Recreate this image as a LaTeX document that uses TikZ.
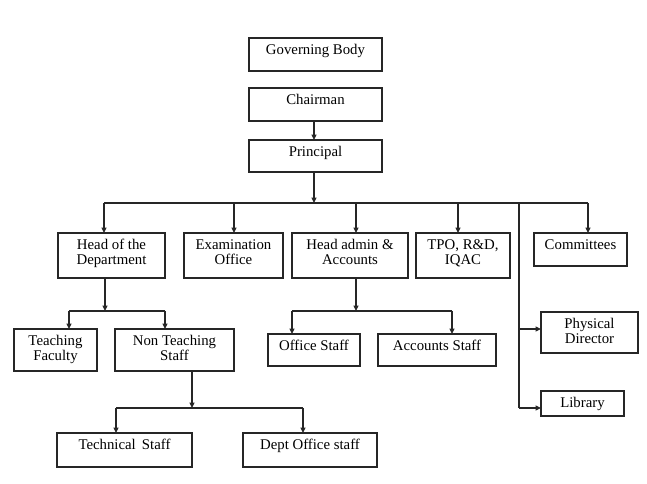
\documentclass[tikz,border=0pt]{standalone}
\usepackage{fontspec}
\setmainfont{Liberation Serif}
\usetikzlibrary{arrows.meta}
\tikzset{
  box/.style={draw=black!85, line width=1.05pt, rectangle, inner sep=0pt, outer sep=0pt},
  lbl/.style={inner sep=0pt, font=\fontsize{11.1}{11.3}\selectfont},
  conn/.style={draw=black!85, line width=0.85pt},
  arr/.style={conn, -{Triangle[length=4pt,width=3.6pt]}},
}
% \bx{name}{x1}{y1}{x2}{y2}{text}
\newcommand{\bx}[6]{%
  \node[box, anchor=north west, minimum width={(#4-#2)*0.75pt}, minimum height={(#5-#3)*0.75pt}] (#1) at (#2,#3) {};
  \node[lbl, anchor=base] (#1-t) at ([yshift=-12.6pt]#1.north) {\setlength{\tabcolsep}{0pt}\renewcommand{\arraystretch}{1}\begin{tabular}[t]{c}#6\end{tabular}};
}
\begin{document}
\begin{tikzpicture}[x=0.75pt, y=-0.75pt]
\useasboundingbox (0,0) rectangle (647,484);
\fill[white] (0,0) rectangle (647,484);

\bx{gb}{249}{38}{382}{71}{Governing Body}
\bx{ch}{249}{88}{382}{121}{Chairman}
\bx{pr}{249}{140}{382}{172}{Principal}

\bx{hod}{58}{233}{165}{278}{Head of the\\Department}
\bx{ex}{184}{233}{283}{278}{Examination\\Office}
\bx{ha}{292}{233}{408}{278}{Head admin \&\\Accounts}
\bx{tpo}{416}{233}{510}{278}{TPO, R\&D,\\IQAC}
\bx{com}{534}{233}{627}{266}{Committees}

\bx{tf}{14}{329}{97}{371}{Teaching\\Faculty}
\bx{nt}{115}{329}{234}{371}{Non Teaching\\Staff}
\bx{os}{268}{334}{360}{366}{Office Staff}
\bx{as}{378}{334}{496}{366}{Accounts Staff}
\bx{pd}{541}{312}{638}{353}{Physical\\Director}
\bx{lib}{541}{391}{624}{416}{Library}

\bx{ts}{57}{433}{192}{467}{Technical\, Staff}
\bx{dos}{243}{433}{377}{467}{Dept Office staff}

% junction coordinates
\coordinate (busL) at (104,203);
\coordinate (busE) at (234,203);
\coordinate (busM) at (314,203);
\coordinate (busH) at (356,203);
\coordinate (busT) at (458,203);
\coordinate (busV) at (519,203);
\coordinate (busR) at (588,203);
\coordinate (hodJ) at (105,311);
\coordinate (hodL) at (69,311);
\coordinate (hodR) at (165,311);
\coordinate (haJ) at (356,311);
\coordinate (haL) at (292,311);
\coordinate (haR) at (452,311);
\coordinate (ntJ) at (192,408);
\coordinate (ntL) at (116,408);
\coordinate (ntR) at (303,408);
\coordinate (vPD) at (519,329);
\coordinate (vLib) at (519,408);

% top chain
\draw[arr] (ch.south -| busM) -- (pr.north -| busM);
\draw[arr] (pr.south -| busM) -- (busM);
\draw[conn] (busL) -- (busR);
\draw[arr] (busL) -- (hod.north -| busL);
\draw[arr] (busE) -- (ex.north -| busE);
\draw[arr] (busH) -- (ha.north -| busH);
\draw[arr] (busT) -- (tpo.north -| busT);
\draw[arr] (busR) -- (com.north -| busR);
\draw[conn] (busV) -- (vLib);
\draw[arr] (vPD) -- (pd.west |- vPD);
\draw[arr] (vLib) -- (lib.west |- vLib);

% head of department
\draw[arr] (hod.south -| hodJ) -- (hodJ);
\draw[conn] (hodL) -- (hodR);
\draw[arr] (hodL) -- (tf.north -| hodL);
\draw[arr] (hodR) -- (nt.north -| hodR);

% head admin
\draw[arr] (ha.south -| haJ) -- (haJ);
\draw[conn] (haL) -- (haR);
\draw[arr] (haL) -- (os.north -| haL);
\draw[arr] (haR) -- (as.north -| haR);

% non teaching
\draw[arr] (nt.south -| ntJ) -- (ntJ);
\draw[conn] (ntL) -- (ntR);
\draw[arr] (ntL) -- (ts.north -| ntL);
\draw[arr] (ntR) -- (dos.north -| ntR);
\end{tikzpicture}
\end{document}
